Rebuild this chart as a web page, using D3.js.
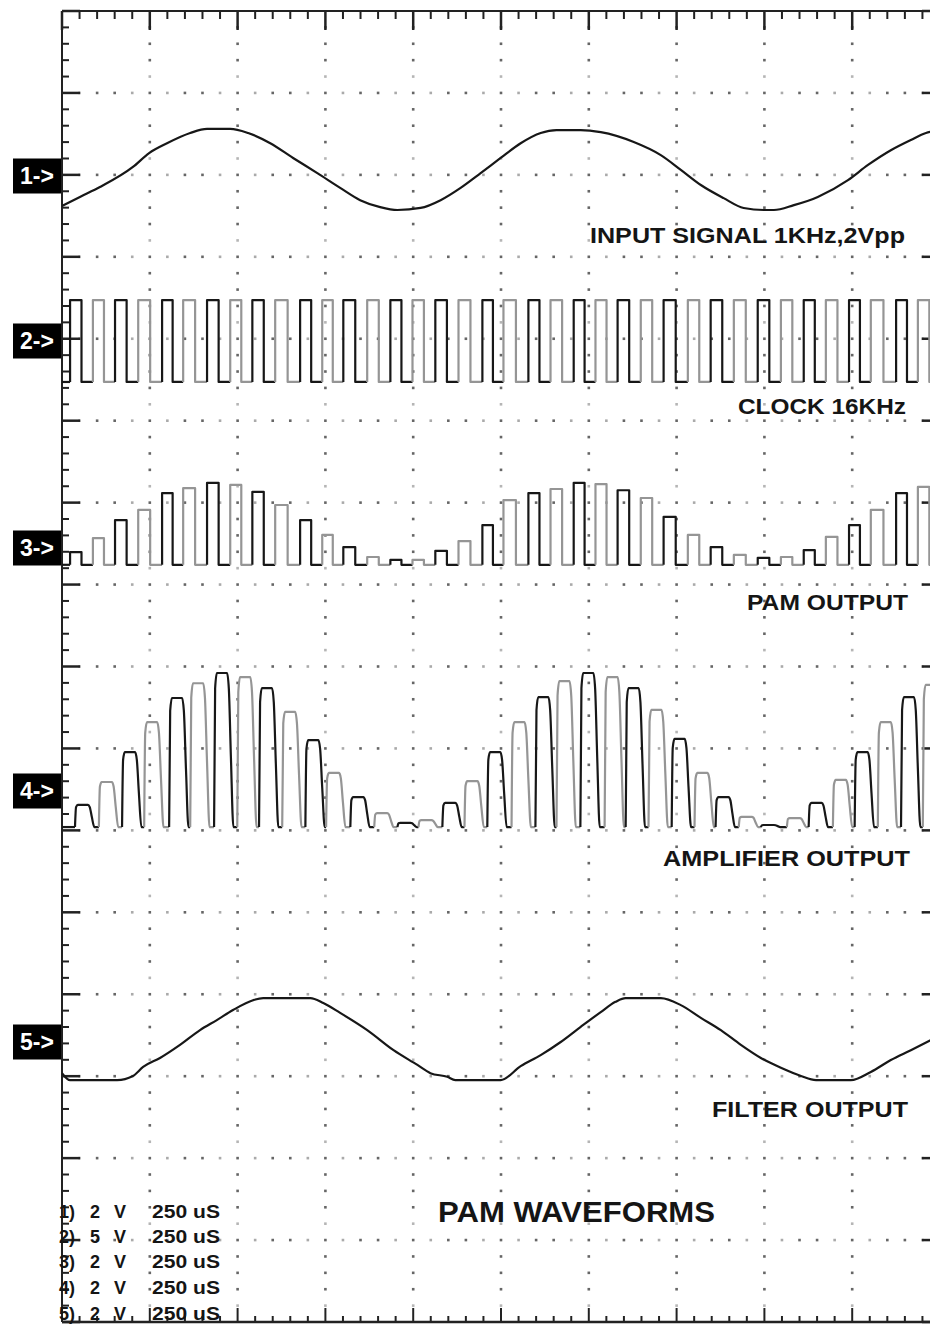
<!DOCTYPE html>
<html><head><meta charset="utf-8">
<script src="https://cdn.jsdelivr.net/npm/d3@7"></script>
<style>html,body{margin:0;padding:0;background:#fff;}svg{display:block;}</style>
</head><body>
<svg id="c" width="930" height="1325"></svg>
<script>
// ---------------- data ----------------
const timePerDivUs = 250;
const horizontalDivs = 10;
const verticalDivs = 16;
const channelNames = ["1->", "2->", "3->", "4->", "5->"];
const traceLabels = ["INPUT SIGNAL 1KHz,2Vpp", "CLOCK 16KHz", "PAM OUTPUT", "AMPLIFIER OUTPUT", "FILTER OUTPUT"];
const voltsPerDiv = [2, 5, 2, 2, 2];
const legendChannel = ["1)", "2)", "3)", "4)", "5)"];
const legendVolts = ["2", "5", "2", "2", "2"];
const legendTime = ["250 uS", "250 uS", "250 uS", "250 uS", "250 uS"];
const chartTitle = "PAM WAVEFORMS";

// channel 1: input sine (time us, volts)
const inputT = [0,51,108,202,248,299,365,413,479,530,593,658,727,792,849,906,955,1021,1078,1135,1192,1249,1306,1363,1408,1477,1534,1628,1705,1762,1819,1884,1941,1998,2027,2084,2152,2238,2295,2360,2417,2460,2503];
const inputV = [-0.73,-0.51,-0.27,0.22,0.56,0.80,1.05,1.15,1.15,1.05,0.80,0.44,0.07,-0.29,-0.59,-0.76,-0.83,-0.78,-0.59,-0.29,0.07,0.44,0.80,1.05,1.12,1.12,1.07,0.83,0.51,0.15,-0.22,-0.54,-0.78,-0.83,-0.83,-0.71,-0.51,-0.10,0.27,0.63,0.88,1.05,1.12];

// channel 2: clock, rising-edge times (us) and levels (V)
const pulseStartT = [23,88,151,217,285,345,413,479,542,607,678,741,801,869,935,998,1063,1129,1197,1257,1328,1391,1457,1519,1582,1648,1713,1782,1847,1913,1981,2047,2112,2175,2241,2303,2375,2437];
const clockLowV = -2.5;
const clockHighV = 2.5;

// channel 3: PAM pulse tops (V), one per clock pulse
const pamTopV = [-0.10,0.24,0.68,0.93,1.34,1.46,1.59,1.54,1.37,1.05,0.68,0.32,0.02,-0.22,-0.29,-0.29,-0.07,0.17,0.56,1.17,1.34,1.44,1.59,1.56,1.41,1.22,0.76,0.32,0.02,-0.17,-0.24,-0.22,-0.05,0.27,0.56,0.93,1.34,1.49];
const pamBaseV = -0.41;

// channel 4: amplifier output peaks (us, V)
const ampPeakT = [60,128,194,257,328,388,456,522,584,650,716,775,844,912,978,1038,1106,1169,1234,1303,1371,1431,1499,1568,1628,1693,1759,1824,1884,1950,2013,2087,2149,2218,2280,2346,2412,2474];
const ampPeakV = [-0.34,0.22,0.95,1.68,2.27,2.63,2.88,2.78,2.51,1.93,1.24,0.44,-0.15,-0.54,-0.78,-0.71,-0.29,0.24,0.95,1.68,2.29,2.68,2.88,2.78,2.51,1.98,1.27,0.44,-0.15,-0.63,-0.83,-0.66,-0.29,0.27,0.95,1.68,2.29,2.59];
const ampBaseV = -0.88;

// channel 5: filter output (us, V)
const filterT = [0,23,157,202,231,279,336,393,442,487,544,573,707,744,792,869,944,1012,1049,1097,1120,1249,1306,1363,1420,1477,1534,1576,1605,1705,1762,1819,1876,1933,1990,2047,2104,2147,2246,2303,2360,2417,2474];
const filterV = [-0.76,-0.93,-0.93,-0.83,-0.61,-0.39,-0.07,0.29,0.54,0.78,1.02,1.07,1.07,0.95,0.71,0.29,-0.20,-0.56,-0.76,-0.85,-0.93,-0.93,-0.59,-0.32,0,0.37,0.73,0.98,1.07,1.07,0.90,0.59,0.29,-0.07,-0.39,-0.63,-0.83,-0.93,-0.93,-0.73,-0.44,-0.20,0.05];

// ---------------- layout ----------------
const L = 62, R = 940, T = 11, B = 1322;
const zeroY = [176, 341, 548, 791, 1042];
const labelX = [590, 738, 747, 663, 712];
const labelW = [315, 168, 161, 247, 196];
const labelY = [243, 414, 610, 866, 1117];
const FONT = "'Liberation Sans', Arial, Helvetica, sans-serif";
const DARK = "#171717", LIGHT = "#959595";

const svg = d3.select("#c");
const x = d3.scaleLinear().domain([0, horizontalDivs * timePerDivUs]).range([L, R]);
const yDiv = d3.scaleLinear().domain([0, verticalDivs]).range([T, B]);
const divH = yDiv(1) - yDiv(0);
const yCh = voltsPerDiv.map((v, i) => d3.scaleLinear().domain([0, v]).range([zeroY[i], zeroY[i] - divH]));

// ---------------- grid ----------------
const grid = svg.append("g");
const hx = d3.range(1, horizontalDivs * 5).map(j => j * timePerDivUs / 5);
d3.range(1, verticalDivs).forEach(k => {
  grid.selectAll(null).data(hx).enter().append("rect")
    .attr("x", d => x(d) - 1.3).attr("y", yDiv(k) - 1.3)
    .attr("width", 2.6).attr("height", 2.6)
    .attr("fill", (d, j) => (j % 5 === 1 || j % 5 === 2 || j % 5 === 4) ? "#666" : "#aaa");
});
const vy = d3.range(1, verticalDivs * 5).filter(m => m % 5 !== 0).map(m => m / 5);
d3.range(1, horizontalDivs).forEach(j => {
  grid.selectAll(null).data(vy).enter().append("rect")
    .attr("x", x(j * timePerDivUs) - 1.3).attr("y", d => yDiv(d) - 1.3)
    .attr("width", 2.6).attr("height", 2.6)
    .attr("fill", (d, i) => (i % 4 === 3) ? "#b5b5b5" : "#666");
});

// ---------------- frame & ticks ----------------
const axes = svg.append("g").attr("stroke", "#222");
axes.append("line").attr("x1", L).attr("x2", L).attr("y1", T).attr("y2", B).attr("stroke-width", 2);
axes.append("line").attr("x1", L).attr("x2", 930).attr("y1", T).attr("y2", T).attr("stroke-width", 2);
axes.append("line").attr("x1", L).attr("x2", 930).attr("y1", B).attr("y2", B).attr("stroke-width", 2.5);
const xt = d3.range(0, horizontalDivs * 5 + 1).map(j => j * timePerDivUs / 5);
axes.selectAll(null).data(xt).enter().append("line")
  .attr("x1", d => x(d)).attr("x2", d => x(d))
  .attr("y1", T).attr("y2", (d, j) => T + (j % 5 === 0 ? 19 : 8))
  .attr("stroke-width", (d, j) => j % 5 === 0 ? 2.5 : 2);
axes.selectAll(null).data(xt).enter().append("line")
  .attr("x1", d => x(d)).attr("x2", d => x(d))
  .attr("y1", B).attr("y2", (d, j) => B - (j % 5 === 0 ? 14 : 6))
  .attr("stroke-width", 2);
const yt = d3.range(0, verticalDivs * 5 + 1).map(m => m / 5);
axes.selectAll(null).data(yt).enter().append("line")
  .attr("x1", L).attr("x2", (d, m) => L + (m % 5 === 0 ? 18 : 7))
  .attr("y1", d => yDiv(d)).attr("y2", d => yDiv(d))
  .attr("stroke-width", (d, m) => m % 5 === 0 ? 2.5 : 2);
axes.selectAll(null).data(yt).enter().append("line")
  .attr("x1", R).attr("x2", (d, m) => R - (m % 5 === 0 ? 18 : 7))
  .attr("y1", d => yDiv(d)).attr("y2", d => yDiv(d))
  .attr("stroke-width", 2.5);

// ---------------- traces ----------------
svg.append("clipPath").attr("id", "clip").append("rect")
  .attr("x", L).attr("y", T).attr("width", R - L).attr("height", B - T);
const tr = svg.append("g").attr("clip-path", "url(#clip)").attr("fill", "none")
  .attr("stroke-width", 2.2).attr("stroke-linejoin", "round");

const lineOf = (ys, curve) => d3.line().x(d => x(d[0])).y(d => ys(d[1])).curve(curve || d3.curveLinear);

// ch1 input
tr.append("path").datum(inputT.map((t, i) => [t, inputV[i]]))
  .attr("d", lineOf(yCh[0], d3.curveMonotoneX)).attr("stroke", DARK);

// pulse helpers
const n = pulseStartT.length;
const period = (pulseStartT[n - 1] - pulseStartT[0]) / (n - 1);
const nextStart = i => i + 1 < n ? pulseStartT[i + 1] : pulseStartT[i] + period;
function pulseCycles(hiV, loV) {
  return pulseStartT.map((s, i) => {
    const e = s + (nextStart(i) - s) / 2;
    const h = typeof hiV === "function" ? hiV(i) : hiV;
    return [[s, loV], [s, h], [e, h], [e, loV], [nextStart(i), loV]];
  });
}
// ch2 clock
tr.append("path").datum([[0, clockLowV], [pulseStartT[0], clockLowV]])
  .attr("d", lineOf(yCh[1])).attr("stroke", DARK);
tr.selectAll(null).data(pulseCycles(clockHighV, clockLowV)).enter().append("path")
  .attr("d", lineOf(yCh[1])).attr("stroke", (d, i) => i % 2 ? LIGHT : DARK);

// ch3 PAM
tr.append("path").datum([[0, pamBaseV], [pulseStartT[0], pamBaseV]])
  .attr("d", lineOf(yCh[2])).attr("stroke", DARK);
tr.selectAll(null).data(pulseCycles(i => pamTopV[i], pamBaseV)).enter().append("path")
  .attr("d", lineOf(yCh[2])).attr("stroke", (d, i) => i % 2 ? LIGHT : DARK);

// ch4 amplifier: rounded bumps around each peak
const bumpShape = [[-23, 0], [-20, 0.9], [-15, 1], [14, 1], [19, 0.9], [25, 0.45], [32, 0]];
const ampCycles = ampPeakT.map((c, i) => {
  const h = ampPeakV[i] - ampBaseV;
  const pts = bumpShape.map(s => [c + s[0], ampBaseV + s[1] * h]);
  const nx = i + 1 < ampPeakT.length ? ampPeakT[i + 1] - 23 : c + 80;
  pts.push([nx, ampBaseV]);
  return pts;
});
tr.append("path").datum([[0, ampBaseV], [ampPeakT[0] - 23, ampBaseV]])
  .attr("d", lineOf(yCh[3])).attr("stroke", DARK);
tr.selectAll(null).data(ampCycles).enter().append("path")
  .attr("d", lineOf(yCh[3], d3.curveMonotoneX)).attr("stroke", (d, i) => i % 2 ? LIGHT : DARK);

// ch5 filter
tr.append("path").datum(filterT.map((t, i) => [t, filterV[i]]))
  .attr("d", lineOf(yCh[4], d3.curveMonotoneX)).attr("stroke", DARK);

// ---------------- channel markers ----------------
const mk = svg.append("g");
channelNames.forEach((name, i) => {
  mk.append("rect").attr("x", 13).attr("y", zeroY[i] - 17.5).attr("width", 48).attr("height", 35).attr("fill", "#000");
  mk.append("text").attr("x", 37).attr("y", zeroY[i] + 8).attr("text-anchor", "middle")
    .attr("font-family", FONT).attr("font-weight", "bold").attr("font-size", 23).attr("fill", "#fff").text(name);
});

// ---------------- labels ----------------
const lb = svg.append("g").attr("font-family", FONT).attr("font-weight", "bold").attr("fill", "#151515");
traceLabels.forEach((t, i) => {
  lb.append("text").attr("x", labelX[i]).attr("y", labelY[i]).attr("font-size", 22)
    .attr("textLength", labelW[i]).attr("lengthAdjust", "spacingAndGlyphs").text(t);
});
lb.append("text").attr("x", 438).attr("y", 1222).attr("font-size", 30)
  .attr("textLength", 277).attr("lengthAdjust", "spacingAndGlyphs").text(chartTitle);

const legendY = [1218, 1243, 1268, 1294, 1320];
legendChannel.forEach((c, i) => {
  lb.append("text").attr("x", 59).attr("y", legendY[i]).attr("font-size", 18).text(c);
  lb.append("text").attr("x", 90).attr("y", legendY[i]).attr("font-size", 18).text(legendVolts[i]);
  lb.append("text").attr("x", 114).attr("y", legendY[i]).attr("font-size", 18).text("V");
  lb.append("text").attr("x", 152).attr("y", legendY[i]).attr("font-size", 18)
    .attr("textLength", 68).attr("lengthAdjust", "spacingAndGlyphs").text(legendTime[i]);
});
</script>
</body></html>
